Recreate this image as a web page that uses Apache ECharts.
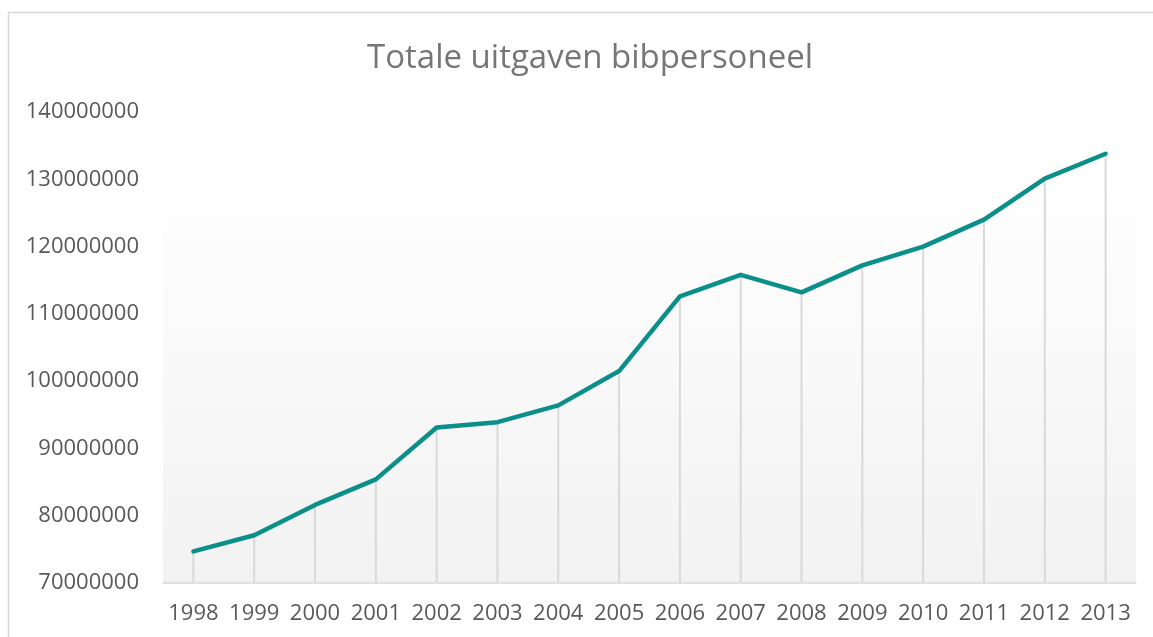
<!DOCTYPE html>
<html>
<head>
<meta charset="utf-8">
<script src="https://cdn.jsdelivr.net/npm/echarts@6/dist/echarts.min.js"></script>
<style>
  html, body { margin: 0; padding: 0; background: #fff; }
  #chart { width: 1153px; height: 637px; }
</style>
</head>
<body>
<div id="chart"></div>
<script>
const years = ["1998", "1999", "2000", "2001", "2002", "2003", "2004", "2005",
  "2006", "2007", "2008", "2009", "2010", "2011", "2012", "2013"];
const uitgaven = [74700000, 77100000, 81600000, 85400000, 93100000, 93900000,
  96400000, 101500000, 112600000, 115800000, 113200000, 117200000,
  120000000, 124000000, 130100000, 133800000];
const yMin = 70000000;
const yMax = 140000000;
const yStep = 10000000;

const chart = echarts.init(document.getElementById("chart"));

chart.setOption({
  backgroundColor: "#ffffff",
  animation: false,
  textStyle: { fontFamily: "Open Sans" },
  title: {
    text: "Totale uitgaven bibpersoneel",
    left: 362,
    top: 37,
    textStyle: {
      fontFamily: "Open Sans",
      fontSize: 33,
      fontWeight: "normal",
      color: "#767676",
    },
  },
  graphic: [
    {
      type: "rect",
      silent: true,
      z: -1,
      shape: { x: 8.5, y: 12.5, width: 1200, height: 700 },
      style: { fill: "none", stroke: "#d9d9d9", lineWidth: 1.5 },
    },
  ],
  grid: {
    left: 163,
    right: 17,
    top: 112,
    bottom: 54,
    show: true,
    borderWidth: 0,
    backgroundColor: new echarts.graphic.LinearGradient(0, 0, 0, 1, [
      { offset: 0, color: "#ffffff" },
      { offset: 0.12, color: "#ffffff" },
      { offset: 1, color: "#f2f2f2" },
    ]),
  },
  xAxis: {
    type: "category",
    data: years,
    boundaryGap: true,
    axisTick: { show: false },
    axisLine: { lineStyle: { color: "#d9d9d9", width: 1.5 } },
    axisLabel: {
      color: "#595959",
      fontSize: 22,
      margin: 20,
      interval: 0,
    },
  },
  yAxis: {
    type: "value",
    min: yMin,
    max: yMax,
    interval: yStep,
    startValue: yMin,
    axisLine: { show: false },
    axisTick: { show: false },
    splitLine: { show: false },
    axisLabel: {
      color: "#595959",
      fontSize: 22,
      margin: 24,
      formatter: (v) => String(v),
    },
  },
  series: [
    {
      name: "droplines",
      type: "bar",
      data: uitgaven,
      barWidth: 2,
      silent: true,
      z: 1,
      itemStyle: { color: "#d9d9d9" },
    },
    {
      name: "Totale uitgaven",
      type: "line",
      data: uitgaven,
      z: 3,
      symbol: "none",
      lineStyle: { color: "#0a8f8b", width: 4.5, cap: "round", join: "round" },
    },
  ],
});
</script>
</body>
</html>
